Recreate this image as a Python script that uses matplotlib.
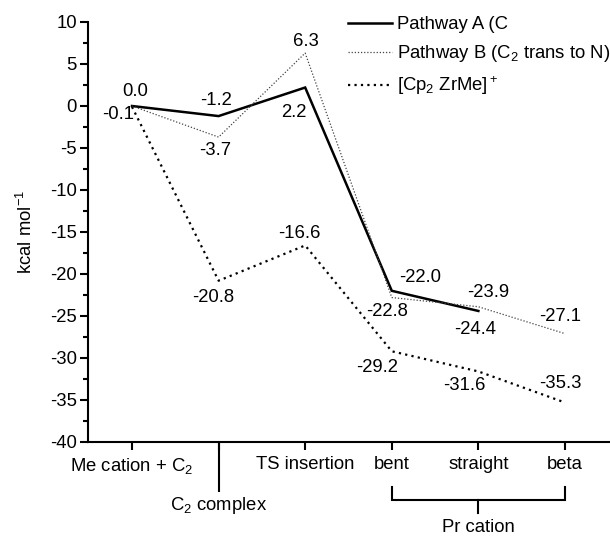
import matplotlib
matplotlib.use('Agg')
import matplotlib.pyplot as plt
from matplotlib.ticker import MultipleLocator

plt.rcParams['font.family'] = ['Liberation Sans', 'DejaVu Sans']
plt.rcParams['mathtext.fontset'] = 'custom'
plt.rcParams['mathtext.rm'] = 'Liberation Sans'
plt.rcParams['mathtext.it'] = 'Liberation Sans:italic'
plt.rcParams['mathtext.bf'] = 'Liberation Sans:bold'
plt.rcParams['mathtext.default'] = 'regular'
plt.rcParams['axes.unicode_minus'] = False

FS = 13.3

# Reaction stages along the x axis
stages = ['Me cation + C$_2$', 'C$_2$ complex', 'TS insertion', 'bent', 'straight', 'beta']

# Relative energies (kcal/mol)
pathway_a = [0.0, -1.2, 2.2, -22.0, -24.4]
pathway_b = [0.0, -3.7, 6.3, -22.8, -23.9, -27.1]
cp2zrme = [-0.1, -20.8, -16.6, -29.2, -31.6, -35.3]

# Label offsets in pixels (None = unlabelled)
offs_a = [(3, 14), (-3, 16), (-11, -25), (28, 13), (-3, -19)]
offs_b = [None, (-3, -13), (1, 12), (-5, -14), (10, 14), (-5, 17)]
offs_c = [(-14, -8), (-5, -17), (-6, 12), (-15, -16), (-14, -14), (-5, 19)]

fig = plt.figure(figsize=(6.1, 5.38), dpi=100)
ax = fig.add_axes([88 / 610, 1 - 442 / 538, 522 / 610, 420 / 538])

ax.plot(range(len(pathway_a)), pathway_a, color='black', lw=1.8,
        solid_joinstyle='miter', label='Pathway A (C')
ax.plot(range(len(pathway_b)), pathway_b, color='#444444', lw=0.9,
        linestyle=(0, (1, 1.5)), label='Pathway B (C$_2$ trans to N)')
ax.plot(range(len(cp2zrme)), cp2zrme, color='black', lw=1.6,
        linestyle=(0, (1, 1.9)), label='[Cp$_2$ ZrMe]$^+$')

for series, offs in ((pathway_a, offs_a), (pathway_b, offs_b), (cp2zrme, offs_c)):
    for i, (v, o) in enumerate(zip(series, offs)):
        if o is None:
            continue
        ax.annotate(f'{v:.1f}', xy=(i, v), xytext=o, textcoords='offset pixels',
                    ha='center', va='center', fontsize=FS)

ax.set_xlim(-0.508, 5.52)
ax.set_ylim(-40, 10)
ax.yaxis.set_major_locator(MultipleLocator(5))
ax.yaxis.set_minor_locator(MultipleLocator(2.5))
ax.set_xticks(range(len(stages)))
ax.set_xticklabels([s if i != 1 else '' for i, s in enumerate(stages)])

for side in ('top', 'right'):
    ax.spines[side].set_visible(False)
for side in ('left', 'bottom'):
    ax.spines[side].set_linewidth(1.5)

ax.tick_params(axis='both', which='major', labelsize=FS, width=1.5, length=6, direction='out')
ax.tick_params(axis='y', which='minor', width=1.5, length=3.5, direction='out')
ax.tick_params(axis='y', which='major', pad=2)
ax.tick_params(axis='x', which='major', pad=4)

ax.set_ylabel('kcal mol$^{-1}$', fontsize=FS, labelpad=10)

# Long tick and lowered label for the second stage
xt = ax.get_xaxis_transform()
ax.plot([1, 1], [0, -50 / 420], transform=xt, color='black', lw=1.5,
        clip_on=False, solid_capstyle='butt')
ax.text(1, -63 / 420, stages[1], transform=xt, ha='center', va='center', fontsize=FS)

# Bracket grouping the Pr cation structures
y1, y2, y3 = -45 / 420, -58 / 420, -71 / 420
ax.plot([3, 3, 5, 5], [y1, y2, y2, y1], transform=xt, color='black', lw=1.5,
        clip_on=False, solid_joinstyle='miter')
ax.plot([4, 4], [y2, y3], transform=xt, color='black', lw=1.5, clip_on=False)
ax.text(4, -86 / 420, 'Pr cation', transform=xt, ha='center', va='center', fontsize=FS)

ax.legend(loc='upper left', bbox_to_anchor=(348 / 610, 1 - 16 / 538),
          bbox_transform=fig.transFigure, frameon=False, fontsize=FS,
          handlelength=2.4, handletextpad=0.25, labelspacing=0.55,
          borderpad=0, borderaxespad=0)

fig.savefig('out.png', dpi=100)
